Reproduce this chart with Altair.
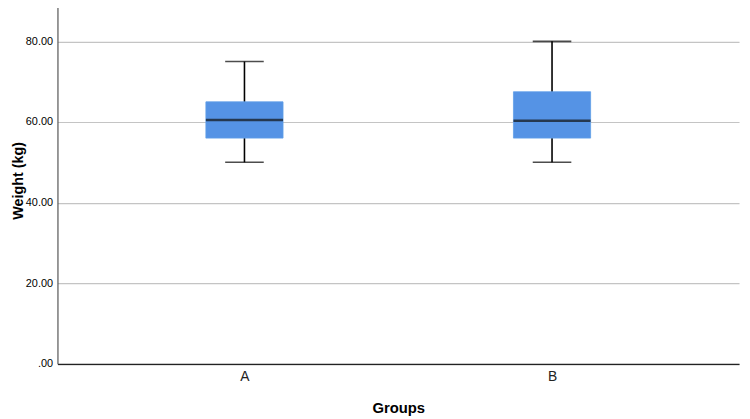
import altair as alt
import pandas as pd

groups = ["A", "B"]
whisker_low = [50.0, 50.0]
q1 = [56.0, 56.0]
median = [60.5, 60.3]
q3 = [65.0, 67.5]
whisker_high = [75.0, 80.0]
y_ticks = [0, 20, 40, 60, 80]

df = pd.DataFrame({
    "group": groups,
    "low": whisker_low,
    "q1": q1,
    "median": median,
    "q3": q3,
    "high": whisker_high,
})

FONT = "Liberation Sans"

x_enc = alt.X(
    "group:N",
    scale=alt.Scale(type="point", padding=0.608),
    axis=alt.Axis(
        title="Groups", labelAngle=0, ticks=False, labelPadding=6,
        labelFontSize=14, labelFont=FONT, labelColor="#222",
        titleFont=FONT, titleFontSize=15, titleFontWeight="bold", titleColor="#000",
        titlePadding=17, domainColor="#222", domainWidth=1.2, grid=False,
    ),
)

y_scale = alt.Scale(domain=[0, 88.96], nice=False, zero=True)
y_axis = alt.Axis(
    title="Weight (kg)", values=y_ticks, ticks=False, labelPadding=5,
    labelExpr="datum.value == 0 ? '.00' : format(datum.value, '.2f')",
    labelFont=FONT, labelFontSize=11, labelColor="#000",
    titleFont=FONT, titleFontSize=14.5, titleFontWeight="bold", titleColor="#000",
    titleX=-35, titleY=177, titleAngle=270, titleAlign="center",
    titleBaseline="alphabetic",
    domainColor="#555", domainWidth=1.2,
    grid=True, gridColor="#c4c4c4", gridWidth=1.2,
)

base = alt.Chart(df)

whisker = base.mark_rule(color="#000", strokeWidth=1.6).encode(
    x=x_enc,
    y=alt.Y("low:Q", scale=y_scale, axis=y_axis),
    y2="high:Q",
)

cap_low = base.mark_tick(color="#000", size=39, thickness=1.6).encode(
    x="group:N", y="low:Q"
)
cap_high = base.mark_tick(color="#000", size=39, thickness=1.6).encode(
    x="group:N", y="high:Q"
)

box = base.mark_bar(size=78, color="#5593e5", stroke="#5f9ee8", strokeWidth=0.8).encode(
    x="group:N", y="q1:Q", y2="q3:Q"
)

med = base.mark_tick(color="#111", size=78, thickness=2.4).encode(
    x="group:N", y="median:Q"
)

chart = alt.layer(whisker, cap_low, cap_high, box, med).properties(
    width=689,
    height=362.5,
    autosize=alt.AutoSizeParams(type="none"),
    padding={"left": 50, "top": -5, "right": 3, "bottom": 50},
).configure_view(stroke=None)

chart.save("out.html", embed_options={"renderer": "svg", "actions": False})
